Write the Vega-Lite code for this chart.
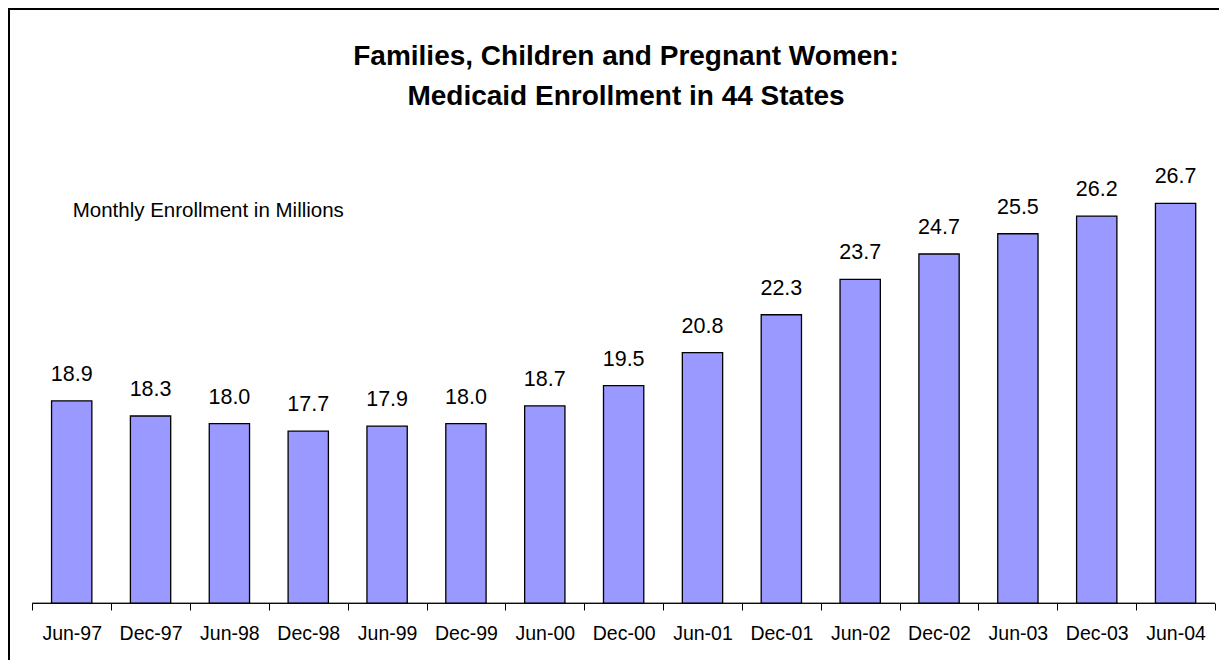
{
  "$schema": "https://vega.github.io/schema/vega-lite/v6.json",
  "width": 1215,
  "height": 656,
  "autosize": {"type": "none"},
  "padding": {"left": 9, "top": 9, "right": -5, "bottom": -5},
  "background": "white",
  "config": {
    "view": {"stroke": "black", "strokeWidth": 2},
    "font": "Liberation Sans"
  },
  "title": {
    "text": ["Families, Children and Pregnant Women:", "Medicaid Enrollment in 44 States"],
    "font": "Liberation Sans",
    "fontSize": 28,
    "fontWeight": "bold",
    "color": "black",
    "lineHeight": 40,
    "anchor": "middle",
    "frame": "group",
    "offset": -102,
    "dx": 9.5
  },
  "data": {
    "values": [
      {"month": "Jun-97", "value": 18.9, "note": "Monthly Enrollment in Millions"},
      {"month": "Dec-97", "value": 18.3},
      {"month": "Jun-98", "value": 18.0},
      {"month": "Dec-98", "value": 17.7},
      {"month": "Jun-99", "value": 17.9},
      {"month": "Dec-99", "value": 18.0},
      {"month": "Jun-00", "value": 18.7},
      {"month": "Dec-00", "value": 19.5},
      {"month": "Jun-01", "value": 20.8},
      {"month": "Dec-01", "value": 22.3},
      {"month": "Jun-02", "value": 23.7},
      {"month": "Dec-02", "value": 24.7},
      {"month": "Jun-03", "value": 25.5},
      {"month": "Dec-03", "value": 26.2},
      {"month": "Jun-04", "value": 26.7}
    ]
  },
  "encoding": {
    "x": {
      "field": "month",
      "type": "ordinal",
      "sort": null,
      "scale": {"paddingInner": 0, "paddingOuter": 0.2046, "align": 0.7214},
      "axis": {
        "title": null,
        "labelAngle": 0,
        "labelFont": "Liberation Sans",
        "labelFontSize": 19.5,
        "labelColor": "black",
        "labelPadding": 14,
        "tickSize": 7,
        "tickColor": "black",
        "tickWidth": 1,
        "tickBand": "extent",
        "domain": false,
        "offset": -62
      }
    }
  },
  "layer": [
    {
      "mark": {"type": "bar", "fill": "#9999FF", "stroke": "black", "strokeWidth": 1.3, "width": {"band": 0.511}},
      "encoding": {
        "y": {
          "field": "value",
          "type": "quantitative",
          "scale": {"domain": [8.462, 34.38], "nice": false, "zero": false},
          "axis": null
        },
        "y2": {"datum": 10.9}
      }
    },
    {
      "mark": {"type": "bar", "fillOpacity": 0, "stroke": "black", "strokeWidth": 1},
      "encoding": {
        "y": {"datum": 10.9, "type": "quantitative"},
        "y2": {"datum": 10.9}
      }
    },
    {
      "mark": {"type": "text", "fontSize": 21.5, "dy": -20, "baseline": "alphabetic", "color": "black", "font": "Liberation Sans"},
      "encoding": {
        "y": {"field": "value", "type": "quantitative"},
        "text": {"field": "value", "type": "quantitative", "format": ".1f"}
      }
    },
    {
      "transform": [{"filter": "datum.note"}],
      "mark": {"type": "text", "fontSize": 20.5, "align": "left", "baseline": "alphabetic", "dx": 1, "color": "black", "font": "Liberation Sans"},
      "encoding": {
        "x": {"datum": "Jun-97", "type": "ordinal"},
        "y": {"datum": 26.16, "type": "quantitative"},
        "text": {"field": "note"}
      }
    }
  ]
}
